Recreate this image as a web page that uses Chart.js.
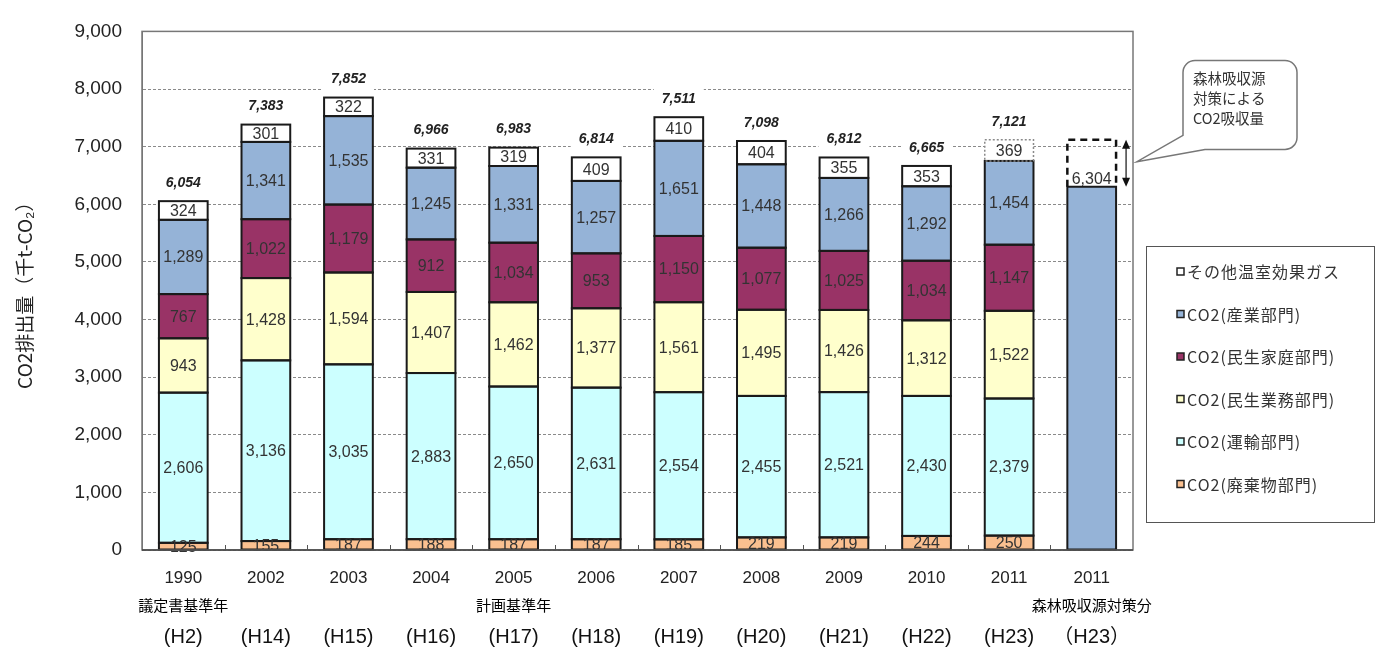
<!DOCTYPE html>
<html>
<head>
<meta charset="utf-8">
<script src="https://cdn.jsdelivr.net/npm/chart.js@4.4.0/dist/chart.umd.min.js"></script>
<style>
  html, body { margin: 0; padding: 0; background: #fff; }
  #wrap { width: 1377px; height: 655px; position: relative; }
</style>
</head>
<body>
<div id="wrap"><canvas id="c"></canvas></div>
<script>
// ---- data ----
const categories = ['1990','2002','2003','2004','2005','2006','2007','2008','2009','2010','2011','2011'];
const subLabels  = ['議定書基準年','','','','計画基準年','','','','','','','森林吸収源対策分'];
const eraLabels  = ['(H2)','(H14)','(H15)','(H16)','(H17)','(H18)','(H19)','(H20)','(H21)','(H22)','(H23)','（H23）'];

const waste      = [125, 155, 187, 188, 187, 187, 185, 219, 219, 244, 250, null];
const transport  = [2606, 3136, 3035, 2883, 2650, 2631, 2554, 2455, 2521, 2430, 2379, null];
const commercial = [943, 1428, 1594, 1407, 1462, 1377, 1561, 1495, 1426, 1312, 1522, null];
const household  = [767, 1022, 1179, 912, 1034, 953, 1150, 1077, 1025, 1034, 1147, null];
const industry   = [1289, 1341, 1535, 1245, 1331, 1257, 1651, 1448, 1266, 1292, 1454, null];
const other      = [324, 301, 322, 331, 319, 409, 410, 404, 355, 353, 369, null];
const totals     = [6054, 7383, 7852, 6966, 6983, 6814, 7511, 7098, 6812, 6665, 7121, null];
const forest     = [null, null, null, null, null, null, null, null, null, null, null, 6304];
const forestTarget = 7121;

const seriesNames = ['CO2(廃棄物部門)','CO2(運輸部門)','CO2(民生業務部門)','CO2(民生家庭部門)','CO2(産業部門)','その他温室効果ガス'];
const legendNames = ['その他温室効果ガス','CO2(産業部門)','CO2(民生家庭部門)','CO2(民生業務部門)','CO2(運輸部門)','CO2(廃棄物部門)'];
const calloutLines = ['森林吸収源','対策による','CO2吸収量'];
const yTicks = { min: 0, max: 9000, step: 1000 };

const colors = ['#fac090', '#ccffff', '#ffffcc', '#993366', '#95b3d7', '#ffffff'];
const legendColors = ['#ffffff', '#95b3d7', '#993366', '#ffffcc', '#ccffff', '#fac090'];
const DASHED_INDEX = 10; // 2011 "other" segment drawn with dotted border

const fmt = v => v.toLocaleString('en-US');
const SANS = '"Liberation Sans", Arial, "Noto Sans CJK JP", sans-serif';
const JP = '"Noto Sans CJK JP", "Liberation Sans", sans-serif';

const seriesData = [waste, transport, commercial, household, industry, other];
const datasets = seriesData.map((d, k) => ({
  label: seriesNames[k],
  data: d,
  backgroundColor: colors[k],
  borderWidth: 0,
  stack: 's'
}));
datasets.push({
  label: 'forest',
  data: forest,
  backgroundColor: '#95b3d7',
  borderWidth: 0,
  stack: 's'
});

const overlay = {
  id: 'overlay',
  afterDatasetsDraw(chart) {
    const { ctx, chartArea: ca, scales: { x, y } } = chart;
    ctx.save();
    // segment outlines
    for (let d = 0; d < chart.data.datasets.length; d++) {
      const meta = chart.getDatasetMeta(d);
      meta.data.forEach((bar, i) => {
        const v = chart.data.datasets[d].data[i];
        if (v == null) return;
        const l = bar.x - bar.width / 2, h = bar.base - bar.y;
        ctx.save();
        if (d === 5 && i === DASHED_INDEX) {
          ctx.strokeStyle = '#8a8a8a';
          ctx.lineWidth = 1.5;
          ctx.setLineDash([2, 2]);
        } else {
          ctx.strokeStyle = '#1a1a1a';
          ctx.lineWidth = 2;
        }
        ctx.strokeRect(l, bar.y, bar.width, h);
        ctx.restore();
      });
    }
    // segment values
    ctx.font = '16px ' + SANS;
    ctx.fillStyle = '#333';
    ctx.textAlign = 'center';
    ctx.textBaseline = 'middle';
    for (let d = 0; d < 6; d++) {
      const meta = chart.getDatasetMeta(d);
      meta.data.forEach((bar, i) => {
        const v = chart.data.datasets[d].data[i];
        if (v == null) return;
        ctx.fillText(fmt(v), bar.x, (bar.y + bar.base) / 2 + 1);
      });
    }
    // totals
    ctx.font = 'italic bold 14px ' + SANS;
    totals.forEach((t, i) => {
      if (t == null) return;
      const cx = x.getPixelForValue(i);
      const ly = y.getPixelForValue(t) - 18;
      const w = ctx.measureText(fmt(t)).width;
      ctx.fillStyle = '#fff';
      ctx.fillRect(cx - w / 2 - 8, ly - 12, w + 16, 24);
      ctx.fillStyle = '#222';
      ctx.fillText(fmt(t), cx, ly);
    });
    // forest bar: dashed box, label, arrow
    const fb = chart.getDatasetMeta(6).data[11];
    if (fb) {
      const topY = y.getPixelForValue(forestTarget);
      const l = fb.x - fb.width / 2, r = fb.x + fb.width / 2;
      ctx.save();
      ctx.strokeStyle = '#111';
      ctx.lineWidth = 2.5;
      ctx.setLineDash([7, 5]);
      ctx.beginPath();
      ctx.moveTo(l, fb.y);
      ctx.lineTo(l, topY);
      ctx.lineTo(r, topY);
      ctx.lineTo(r, fb.y);
      ctx.stroke();
      ctx.restore();
      ctx.font = '16px ' + SANS;
      ctx.fillStyle = '#333';
      ctx.textBaseline = 'bottom';
      ctx.fillText(fmt(forest[11]), fb.x, fb.y + 1);
      // arrow
      const ax = r + 10;
      ctx.strokeStyle = '#111';
      ctx.fillStyle = '#111';
      ctx.lineWidth = 1.2;
      ctx.beginPath();
      ctx.moveTo(ax, topY + 6);
      ctx.lineTo(ax, fb.y - 6);
      ctx.stroke();
      ctx.beginPath();
      ctx.moveTo(ax, topY); ctx.lineTo(ax - 4, topY + 9); ctx.lineTo(ax + 4, topY + 9); ctx.closePath(); ctx.fill();
      ctx.beginPath();
      ctx.moveTo(ax, fb.y); ctx.lineTo(ax - 4, fb.y - 9); ctx.lineTo(ax + 4, fb.y - 9); ctx.closePath(); ctx.fill();
    }
    ctx.restore();
  },
  afterDraw(chart) {
    const { ctx, chartArea: ca, scales: { x, y } } = chart;
    ctx.save();
    // plot frame
    ctx.strokeStyle = '#777';
    ctx.lineWidth = 1.5;
    ctx.strokeRect(ca.left, ca.top, ca.right - ca.left, ca.bottom - ca.top);
    ctx.strokeStyle = '#444';
    ctx.beginPath(); ctx.moveTo(ca.left, ca.bottom); ctx.lineTo(ca.right, ca.bottom); ctx.stroke();
    // small boundary ticks
    ctx.strokeStyle = '#555';
    ctx.lineWidth = 1;
    for (let i = 0; i < categories.length - 1; i++) {
      const bx = Math.round((x.getPixelForValue(i) + x.getPixelForValue(i + 1)) / 2) + 0.5;
      ctx.beginPath(); ctx.moveTo(bx, ca.bottom - 5); ctx.lineTo(bx, ca.bottom); ctx.stroke();
    }
    // x labels: three rows
    ctx.textAlign = 'center';
    ctx.textBaseline = 'middle';
    categories.forEach((c, i) => {
      const cx = x.getPixelForValue(i);
      ctx.fillStyle = '#222';
      ctx.font = '17px ' + SANS;
      ctx.fillText(c, cx, ca.bottom + 28);
      if (subLabels[i]) {
        ctx.fillStyle = '#000';
        ctx.font = '15px ' + JP;
        ctx.fillText(subLabels[i], cx, ca.bottom + 55);
      }
      ctx.fillStyle = '#111';
      ctx.font = '20px ' + SANS;
      ctx.fillText(eraLabels[i], cx, ca.bottom + 87);
    });
    // legend
    const lx = ca.right + 13, ly = 246, lw = 228, lh = 276;
    ctx.fillStyle = '#fff';
    ctx.fillRect(lx, ly, lw, lh);
    ctx.strokeStyle = '#555';
    ctx.lineWidth = 1;
    ctx.strokeRect(lx + 0.5, ly + 0.5, lw, lh);
    ctx.textAlign = 'left';
    ctx.font = '16px ' + JP;
    try { ctx.letterSpacing = '1px'; } catch (e) {}
    legendNames.forEach((n, k) => {
      const iy = ly + 26 + k * 42.5;
      ctx.fillStyle = legendColors[k];
      ctx.fillRect(lx + 31, iy - 4, 7, 7);
      ctx.strokeStyle = '#222';
      ctx.lineWidth = 1.5;
      ctx.strokeRect(lx + 31, iy - 4, 7, 7);
      ctx.fillStyle = '#333';
      ctx.fillText(n, lx + 41, iy);
    });
    try { ctx.letterSpacing = '0px'; } catch (e) {}
    // callout
    const L = ca.right + 50, T = ca.top + 29, R = L + 114, B = T + 89, rr = 12;
    const tipX = ca.right + 4, tipY = y.getPixelForValue(forestTarget) + 22;
    ctx.beginPath();
    ctx.moveTo(L + rr, T);
    ctx.lineTo(R - rr, T);
    ctx.arcTo(R, T, R, T + rr, rr);
    ctx.lineTo(R, B - rr);
    ctx.arcTo(R, B, R - rr, B, rr);
    ctx.lineTo(L + 22, B);
    ctx.lineTo(tipX, tipY);
    ctx.lineTo(L, B - 14);
    ctx.lineTo(L, T + rr);
    ctx.arcTo(L, T, L + rr, T, rr);
    ctx.closePath();
    ctx.fillStyle = '#fff';
    ctx.fill();
    ctx.strokeStyle = '#777';
    ctx.lineWidth = 1.5;
    ctx.stroke();
    ctx.fillStyle = '#333';
    ctx.font = '14.5px ' + JP;
    calloutLines.forEach((t, k) => ctx.fillText(t, L + 10, T + 18 + k * 20));
    ctx.restore();
  }
};

new Chart(document.getElementById('c'), {
  type: 'bar',
  data: { labels: categories, datasets },
  options: {
    responsive: true,
    maintainAspectRatio: false,
    animation: false,
    layout: { padding: { top: 21, right: 244, left: 0, bottom: 0 } },
    datasets: { bar: { categoryPercentage: 1, barPercentage: 0.59 } },
    plugins: { legend: { display: false }, tooltip: { enabled: false } },
    scales: {
      x: {
        stacked: true,
        grid: { display: false },
        border: { display: false },
        ticks: { display: false },
        afterFit: s => { s.height = 105; }
      },
      y: {
        stacked: true,
        min: yTicks.min, max: yTicks.max,
        afterFit: s => { s.width = 142; },
        ticks: {
          stepSize: yTicks.step,
          padding: 20,
          color: '#222',
          font: { family: SANS, size: 19 },
          callback: v => fmt(v)
        },
        grid: { color: '#8a8a8a', lineWidth: 1, drawTicks: false },
        border: { display: true, color: '#777', dash: [3, 2] },
        title: {
          display: true,
          text: 'CO2排出量（千t-CO₂）',
          color: '#222',
          font: { family: JP, size: 19 },
          padding: { top: 13, bottom: 0 }
        }
      }
    }
  },
  plugins: [overlay]
});
</script>
</body>
</html>
